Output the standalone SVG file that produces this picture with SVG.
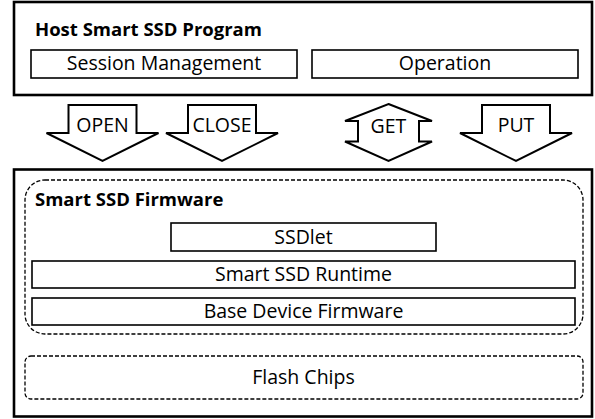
<svg xmlns="http://www.w3.org/2000/svg" width="595" height="419" viewBox="0 0 595 419">
  <style>
    text { font-family: "Open Sans", "Liberation Sans", sans-serif; fill: #000; }
    .lbl { font-size: 19.5px; text-anchor: middle; }
    .ttl { font-size: 18.5px; font-weight: bold; }
    .outer { fill: #fff; stroke: #000; stroke-width: 2.6; }
    .box { fill: #fff; stroke: #000; stroke-width: 1.6; }
    .dash { fill: none; stroke: #000; stroke-width: 1.3; stroke-dasharray: 4 2; }
    .arrow { fill: #fff; stroke: #000; stroke-width: 2; stroke-linejoin: miter; }
  </style>
  <rect width="595" height="419" fill="#fff"/>

  <!-- Host side -->
  <g id="host">
    <rect class="outer" x="14" y="2" width="578" height="93"/>
    <text class="ttl" x="35" y="36">Host Smart SSD Program</text>
  </g>
  <g id="session-management">
    <rect class="box" x="31" y="50" width="266" height="28"/>
    <text class="lbl" x="164" y="70">Session Management</text>
  </g>
  <g id="operation">
    <rect class="box" x="312" y="50" width="266" height="28"/>
    <text class="lbl" x="445" y="70">Operation</text>
  </g>

  <!-- Commands between host and device -->
  <g id="connectors">
    <g id="open">
      <path class="arrow" d="M68.5,105 H136.5 V133 H158.5 L102.5,161 L46.5,133 H68.5 Z"/>
      <text class="lbl" x="102.5" y="132">OPEN</text>
    </g>
    <g id="close">
      <path class="arrow" d="M188,105 H256 V133 H278 L222,161 L166,133 H188 Z"/>
      <text class="lbl" x="222" y="132">CLOSE</text>
    </g>
    <g id="get">
      <path class="arrow" d="M388.5,104 L432,121 H419 V141.5 H432 L388.5,161 L345,141.5 H358 V121 H345 Z"/>
      <text class="lbl" x="388.5" y="133">GET</text>
    </g>
    <g id="put">
      <path class="arrow" d="M482,105 H550 V133 H572 L516,161 L460,133 H482 Z"/>
      <text class="lbl" x="516" y="132">PUT</text>
    </g>
  </g>

  <!-- Device side -->
  <g id="device">
    <rect class="outer" x="14" y="169.5" width="578" height="247"/>
  </g>
  <g id="firmware">
    <rect class="dash" x="25" y="180" width="558" height="154" rx="20" ry="20"/>
    <text class="ttl" x="35" y="206">Smart SSD Firmware</text>
  </g>
  <g id="ssdlet">
    <rect class="box" x="171" y="223" width="265" height="28"/>
    <text class="lbl" x="303.5" y="244">SSDlet</text>
  </g>
  <g id="runtime">
    <rect class="box" x="32" y="261" width="543" height="27"/>
    <text class="lbl" x="303.5" y="281">Smart SSD Runtime</text>
  </g>
  <g id="base-firmware">
    <rect class="box" x="32" y="298" width="543" height="27"/>
    <text class="lbl" x="303.5" y="318">Base Device Firmware</text>
  </g>
  <g id="flash">
    <rect class="dash" x="25" y="356" width="558" height="43" rx="6" ry="6"/>
    <text class="lbl" x="303.5" y="384">Flash Chips</text>
  </g>
</svg>
